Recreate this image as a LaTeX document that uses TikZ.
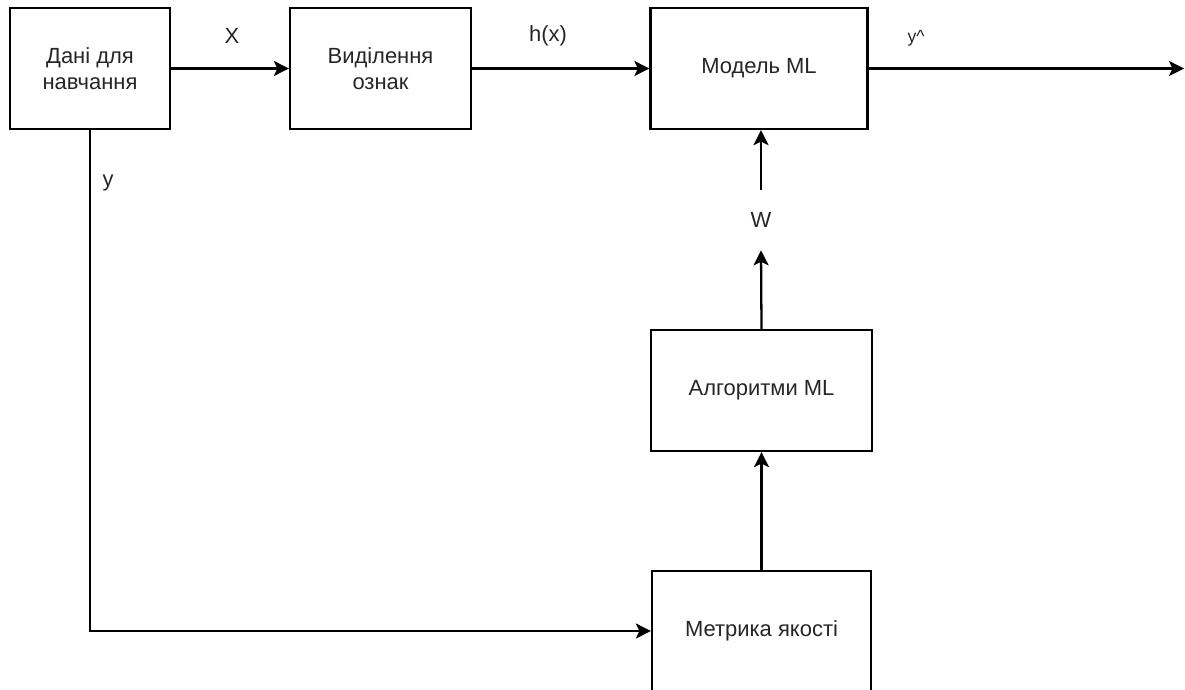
\documentclass[tikz,border=0pt]{standalone}
\usepackage{fontspec}
\setmainfont{Liberation Sans}
\usetikzlibrary{arrows.meta, positioning}
\tikzset{
  block/.style={
    draw, rectangle, line width=1.3pt,
    minimum height=2.42cm, align=center,
    font=\fontsize{12.5}{14.5}\selectfont, text=black!85
  },
  arrow/.style={
    -{Stealth[length=0.3cm, width=0.3cm, inset=0.07cm]}, line width=1.3pt
  },
  lbl/.style={font=\fontsize{12.5}{14.5}\selectfont, text=black!85, inner sep=0pt},
  smalllbl/.style={font=\fontsize{10}{11}\selectfont, text=black!85, inner sep=0pt}
}
\begin{document}
\begin{tikzpicture}[x=0.02cm, y=-0.02cm]
    \useasboundingbox (0,0) rectangle (1185,689);

    \node[block, minimum width=3.2cm] (dani) at (90,68.5) {Дані для\\навчання};
    \node[block, minimum width=3.62cm] (vydil) at (380.5,68.5) {Виділення\\ознак};
    \node[block, minimum width=4.34cm] (model) at (759,68.5) {Модель ML};
    \node[block, minimum width=4.42cm] (algo) at (761.5,390.5) {Алгоритми ML};
    \node[block, minimum width=4.38cm, minimum height=2.4cm] (metr) at (761.5,631) {Метрика якості};

    \node[lbl, minimum height=1.2cm] (w) at (761,220) {W};
    \coordinate (out) at (1184,68.5);

    \draw[arrow] (dani.east) -- (vydil.west);
    \draw[arrow] (vydil.east) -- (model.west);
    \draw[arrow] (model.east) -- (out);
    \draw[arrow] (algo.north) -- (w.south);
    \draw[arrow] (w.north) -- (w.north |- model.south);
    \draw[arrow] (metr.north) -- (algo.south);
    \draw[arrow] (dani.south) |- (metr.west);

    \node[lbl] (xlbl) at (232,36) {X};
    \node[lbl] (hlbl) at (548,36) {h(x)};
    \node[smalllbl] (yhat) at (916,38) {y\^{}};
    \node[lbl] (ylbl) at (108,183) {y};
  \end{tikzpicture}
\end{document}
